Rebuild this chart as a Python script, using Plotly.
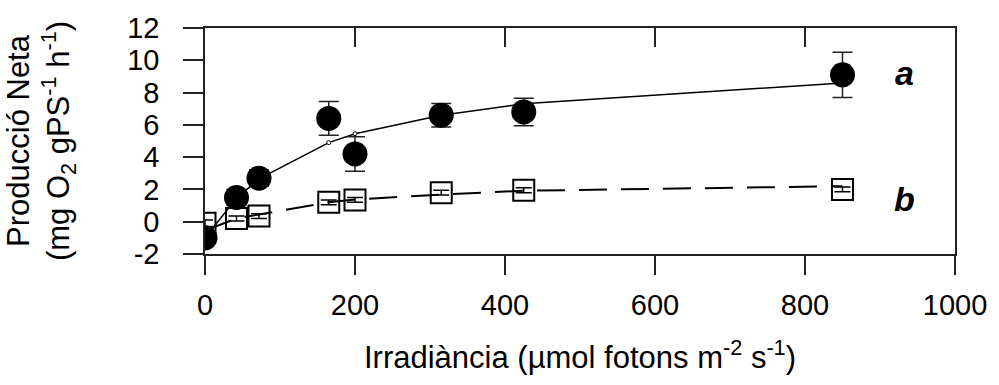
import plotly.graph_objects as go

# Data
irradiance = [0, 42, 72, 165, 200, 315, 425, 850]
prod_a = [-1.0, 1.5, 2.7, 6.4, 4.2, 6.6, 6.8, 9.1]
err_a = [0.3, 0.5, 0.5, 1.05, 1.07, 0.73, 0.85, 1.4]
fit_a = [-1.0, 1.45, 2.65, 4.9, 5.45, 6.6, 7.3, 8.6]
prod_b = [-0.1, 0.2, 0.35, 1.2, 1.35, 1.8, 1.95, 2.0]
err_b = [0.2, 0.15, 0.15, 0.15, 0.15, 0.15, 0.15, 0.15]
fit_b = [-0.55, 0.2, 0.45, 1.2, 1.38, 1.68, 1.92, 2.2]
y_tickvals = [-2, 0, 2, 4, 6, 8, 10, 12]
y_ticktext = ["-2", "0", "2", "4", "6", "8", "10", "12"]
x_tickvals = [0, 200, 400, 600, 800, 1000]
x_ticktext = ["0", "200", "400", "600", "800", "1000"]
labels = ["a", "b"]
label_x = [932, 932]
label_y = [9.2, 1.4]

FONT = "Liberation Sans, Arial, sans-serif"
AX = "#222222"

fig = go.Figure()

# fitted curves
fig.add_trace(go.Scatter(x=irradiance, y=fit_b, mode="lines",
                         line=dict(color="black", width=2, dash="28px,14px"),
                         showlegend=False, hoverinfo="skip"))
fig.add_trace(go.Scatter(x=irradiance, y=fit_a, mode="lines+markers",
                         line=dict(color="black", width=1.5),
                         marker=dict(size=4, color="white",
                                     line=dict(color="black", width=1)),
                         showlegend=False, hoverinfo="skip"))
# series b (open squares)
fig.add_trace(go.Scatter(x=irradiance, y=prod_b, mode="markers",
                         marker=dict(symbol="square-open", size=21, color="black",
                                     line=dict(color="black", width=2)),
                         error_y=dict(type="data", array=err_b, color="black",
                                      thickness=1.5, width=8),
                         showlegend=False))
# series a (filled circles)
fig.add_trace(go.Scatter(x=irradiance, y=prod_a, mode="markers",
                         marker=dict(symbol="circle", size=25, color="black"),
                         error_y=dict(type="data", array=err_a, color=AX,
                                      thickness=1.5, width=10),
                         showlegend=False))
# invisible trace anchoring the top tick axis
fig.add_trace(go.Scatter(x=[], y=[], xaxis="x2", showlegend=False))

for t, xx, yy in zip(labels, label_x, label_y):
    fig.add_annotation(x=xx, y=yy, xref="x", yref="y", text="<b><i>%s</i></b>" % t,
                       showarrow=False, font=dict(family=FONT, size=34, color="black"))

fig.update_layout(
    width=999, height=385,
    margin=dict(l=205, r=38, t=28, b=131),
    paper_bgcolor="white", plot_bgcolor="white",
    font=dict(family=FONT, size=29, color="black"),
    xaxis=dict(range=[0, 1000], tickmode="array", tickvals=x_tickvals, ticktext=x_ticktext,
               showgrid=False, zeroline=False,
               showline=True, linecolor=AX, linewidth=1.5, mirror=True,
               ticks="outside", ticklen=19, tickwidth=1.5, tickcolor=AX,
               ticklabelstandoff=5,
               title=dict(text="Irradiància (µmol fotons m<sup>-2</sup> s<sup>-1</sup>)",
                          font=dict(family=FONT, size=31), standoff=27)),
    xaxis2=dict(range=[0, 1000], tickmode="array", tickvals=x_tickvals,
                overlaying="x", side="top",
                showgrid=False, zeroline=False, showline=False,
                ticks="inside", ticklen=19, tickwidth=1.5, tickcolor=AX,
                showticklabels=False),
    yaxis=dict(range=[-2, 12], tickmode="array", tickvals=y_tickvals, ticktext=y_ticktext,
               showgrid=False, zeroline=False,
               showline=True, linecolor=AX, linewidth=1.5, mirror=True,
               ticks="outside", ticklen=20, tickwidth=1.5, tickcolor=AX,
               ticklabelstandoff=18,
               title=dict(text="Producció Neta<br>(mg O<sub>2</sub> gPS<sup>-1</sup> h<sup>-1</sup>)",
                          font=dict(family=FONT, size=31), standoff=48)),
)

fig.write_html("out.html")
